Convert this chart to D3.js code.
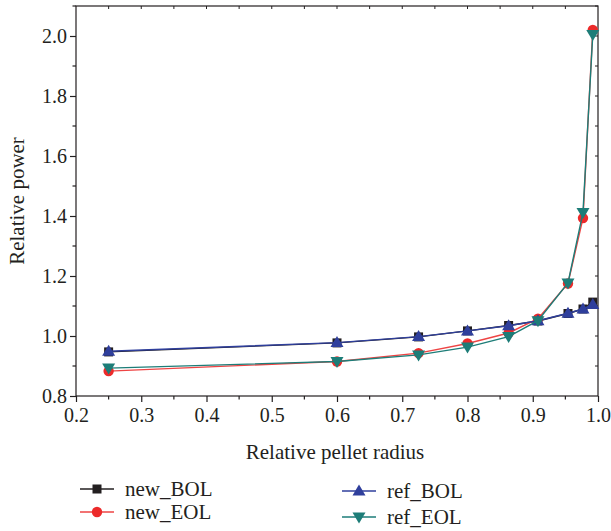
<!DOCTYPE html>
<html><head><meta charset="utf-8">
<script src="https://cdn.jsdelivr.net/npm/d3@7"></script>
<style>body{margin:0;background:#fff}svg{display:block}svg text{font-family:"Liberation Serif","Times New Roman",serif !important;fill:#231f20}</style>
</head><body><svg id="c" width="611" height="531"></svg>
<script>
const radius = [0.25, 0.6, 0.725, 0.8, 0.863, 0.908, 0.954, 0.977, 0.992];
const newBOL = [0.947, 0.977, 0.997, 1.017, 1.035, 1.050, 1.075, 1.090, 1.113];
const newEOL = [0.883, 0.915, 0.943, 0.975, 1.010, 1.058, 1.175, 1.393, 2.020];
const refBOL = [0.949, 0.978, 0.998, 1.017, 1.034, 1.051, 1.076, 1.090, 1.105];
const refEOL = [0.893, 0.915, 0.937, 0.963, 0.998, 1.051, 1.177, 1.412, 2.005];
const xTicks = [0.2, 0.3, 0.4, 0.5, 0.6, 0.7, 0.8, 0.9, 1.0];
const yTicks = [0.8, 1.0, 1.2, 1.4, 1.6, 1.8, 2.0];
const seriesNames = ["new_BOL", "new_EOL", "ref_BOL", "ref_EOL"];

const series = [
  {name: seriesNames[0], values: newBOL, color: "#231f20", line: "#231f20", shape: "square"},
  {name: seriesNames[1], values: newEOL, color: "#ec2a2a", line: "#ee4444", shape: "circle"},
  {name: seriesNames[2], values: refBOL, color: "#2f3f9c", line: "#2f3f9c", shape: "up"},
  {name: seriesNames[3], values: refEOL, color: "#1d7d78", line: "#1d7d78", shape: "down"}
];

const svg = d3.select("#c");
const L = 76, R = 598, T = 6, B = 396;
const x = d3.scaleLinear().domain([0.2, 1.0]).range([L, R]);
const y = d3.scaleLinear().domain([0.8, 2.1]).range([B, T]);

svg.append("rect").attr("x", L).attr("y", T).attr("width", R - L).attr("height", B - T)
  .attr("fill", "none").attr("stroke", "#231f20").attr("stroke-width", 1.2);

const minorX = d3.range(0.25, 1.0, 0.1);
const minorY = d3.range(0.9, 2.1, 0.2);

const gx = svg.append("g").attr("transform", `translate(0,${B})`)
  .call(d3.axisBottom(x).tickValues(xTicks).tickFormat(d3.format(".1f")).tickSize(6).tickSizeOuter(0));
gx.attr("font-family", null).attr("font-size", 20);
gx.select(".domain").remove();
gx.selectAll("line").attr("stroke", "#231f20").attr("stroke-width", 1.2);
gx.selectAll("text").attr("font-size", 20).attr("dy", "0.85em").attr("fill", "#231f20");
svg.append("g").selectAll("line").data(minorX).join("line")
  .attr("x1", d => x(d)).attr("x2", d => x(d)).attr("y1", B).attr("y2", B + 3.5)
  .attr("stroke", "#231f20").attr("stroke-width", 1.2);

const gy = svg.append("g").attr("transform", `translate(${L},0)`)
  .call(d3.axisLeft(y).tickValues(yTicks).tickFormat(d3.format(".1f")).tickSize(6).tickSizeOuter(0));
gy.attr("font-family", null).attr("font-size", 20);
gy.select(".domain").remove();
gy.selectAll("line").attr("stroke", "#231f20").attr("stroke-width", 1.2);
gy.selectAll("text").attr("font-size", 20).attr("x", -9).attr("fill", "#231f20");
svg.append("g").selectAll("line").data(minorY).join("line")
  .attr("x1", L - 3.5).attr("x2", L).attr("y1", d => y(d)).attr("y2", d => y(d))
  .attr("stroke", "#231f20").attr("stroke-width", 1.2);

const topT = d3.range(0.25, 1.0, 0.05);
svg.append("g").selectAll("line").data(topT).join("line")
  .attr("x1", d => x(d)).attr("x2", d => x(d)).attr("y1", T).attr("y2", T + 3)
  .attr("stroke", "#231f20").attr("stroke-width", 1);
const rightT = d3.range(0.9, 2.1, 0.1);
svg.append("g").selectAll("line").data(rightT).join("line")
  .attr("x1", R - 3).attr("x2", R).attr("y1", d => y(d)).attr("y2", d => y(d))
  .attr("stroke", "#231f20").attr("stroke-width", 1);

svg.append("text").attr("x", (L + R) / 2 - 2).attr("y", 459).attr("text-anchor", "middle")
  .attr("font-size", 21).text("Relative pellet radius");
svg.append("text").attr("transform", `translate(24,${(T + B) / 2}) rotate(-90)`)
  .attr("text-anchor", "middle").attr("font-size", 21).text("Relative power");

function marker(g, shape, cx, cy, color) {
  if (shape === "square") {
    g.append("rect").attr("x", cx - 4.5).attr("y", cy - 4.5).attr("width", 9).attr("height", 9).attr("fill", color);
  } else if (shape === "circle") {
    g.append("circle").attr("cx", cx).attr("cy", cy).attr("r", 5.2).attr("fill", color);
  } else if (shape === "up") {
    g.append("path").attr("d", `M${cx},${cy - 6.5}L${cx + 6.5},${cy + 4.5}L${cx - 6.5},${cy + 4.5}Z`).attr("fill", color);
  } else {
    g.append("path").attr("d", `M${cx},${cy + 6.5}L${cx + 6.5},${cy - 4.5}L${cx - 6.5},${cy - 4.5}Z`).attr("fill", color);
  }
}

const line = d3.line().x(d => x(d[0])).y(d => y(d[1]));
series.forEach(s => {
  const pts = radius.map((r, i) => [r, s.values[i]]);
  const g = svg.append("g");
  g.append("path").attr("d", line(pts)).attr("fill", "none").attr("stroke", s.line).attr("stroke-width", 1.4);
  pts.forEach(p => marker(g, s.shape, x(p[0]), y(p[1]), s.color));
});

const legPos = [[80, 489], [80, 512], [342, 491], [342, 517]];
series.forEach((s, i) => {
  const [lx, ly] = legPos[i];
  const g = svg.append("g");
  g.append("line").attr("x1", lx).attr("x2", lx + 34).attr("y1", ly).attr("y2", ly)
    .attr("stroke", s.line).attr("stroke-width", 1.4);
  marker(g, s.shape, lx + 17, ly, s.color);
  g.append("text").attr("x", lx + 45).attr("y", ly + 7).attr("font-size", 21).text(s.name);
});
</script></body></html>
